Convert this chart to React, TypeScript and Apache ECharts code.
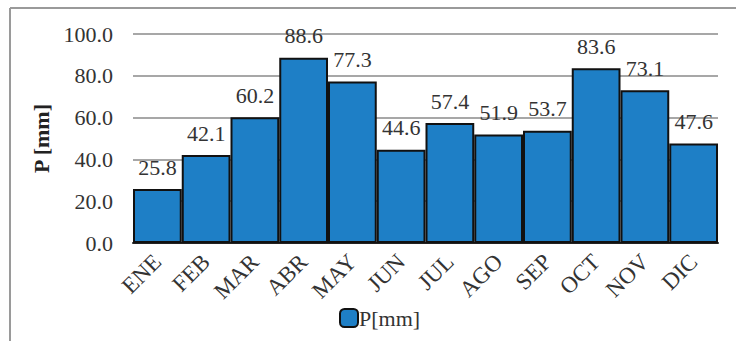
import React, { useEffect, useRef } from "react";
import * as echarts from "echarts";

const months = ["ENE", "FEB", "MAR", "ABR", "MAY", "JUN", "JUL", "AGO", "SEP", "OCT", "NOV", "DIC"];
const precip = [25.8, 42.1, 60.2, 88.6, 77.3, 44.6, 57.4, 51.9, 53.7, 83.6, 73.1, 47.6];
const seriesName = "P[mm]";
const yAxisName = "P [mm]";

const FONT = "'Liberation Serif', 'DejaVu Serif', serif";

export default function App() {
  const ref = useRef<HTMLDivElement>(null);
  useEffect(() => {
    if (!ref.current) return;
    const chart = echarts.init(ref.current, undefined, { renderer: "svg" });
    chart.setOption({
      animation: false,
      backgroundColor: "#ffffff",
      textStyle: { fontFamily: FONT },
      grid: { left: 133, right: 22, top: 34, bottom: 98 },
      graphic: [
        { type: "line", shape: { x1: 10, y1: 8, x2: 10, y2: 341 }, style: { stroke: "#9a9a9a", lineWidth: 2 } },
        { type: "line", shape: { x1: 10, y1: 8, x2: 736, y2: 8 }, style: { stroke: "#9a9a9a", lineWidth: 2 } },
      ],
      legend: {
        data: [seriesName],
        left: 334,
        top: 302,
        itemWidth: 18,
        itemHeight: 18,
        itemGap: 2,
        textStyle: { fontFamily: FONT, fontSize: 22, color: "#333", padding: [0, 0, 0, -4] },
      },
      xAxis: {
        type: "category",
        data: months,
        axisTick: { show: false },
        axisLine: { show: true, lineStyle: { color: "#222", width: 2 } },
        axisLabel: { rotate: 45, fontFamily: FONT, fontSize: 23, color: "#333", margin: 15, interval: 0 },
      },
      yAxis: {
        type: "value",
        min: 0,
        max: 100,
        interval: 20,
        name: yAxisName,
        nameLocation: "middle",
        nameGap: 80,
        nameTextStyle: { fontFamily: FONT, fontSize: 22, fontWeight: "bold", color: "#222" },
        axisLine: { show: false },
        axisTick: { show: false },
        axisLabel: {
          fontFamily: FONT,
          fontSize: 22,
          color: "#333",
          margin: 20,
          formatter: (v: number) => v.toFixed(1),
        },
        splitLine: { lineStyle: { color: "#8a8a8a", width: 1.5 } },
      },
      series: [
        {
          name: seriesName,
          type: "bar",
          data: precip,
          barCategoryGap: "0%",
          itemStyle: { color: "#1e7fc6", borderColor: "#111", borderWidth: 2 },
          label: {
            show: true,
            position: "top",
            distance: 11,
            fontFamily: FONT,
            fontSize: 22,
            color: "#333",
            formatter: (p: any) => Number(p.value).toFixed(1),
          },
        },
      ],
    });
    return () => chart.dispose();
  }, []);
  return <div ref={ref} style={{ position: "fixed", left: 0, top: 0, width: 740, height: 341 }} />;
}
